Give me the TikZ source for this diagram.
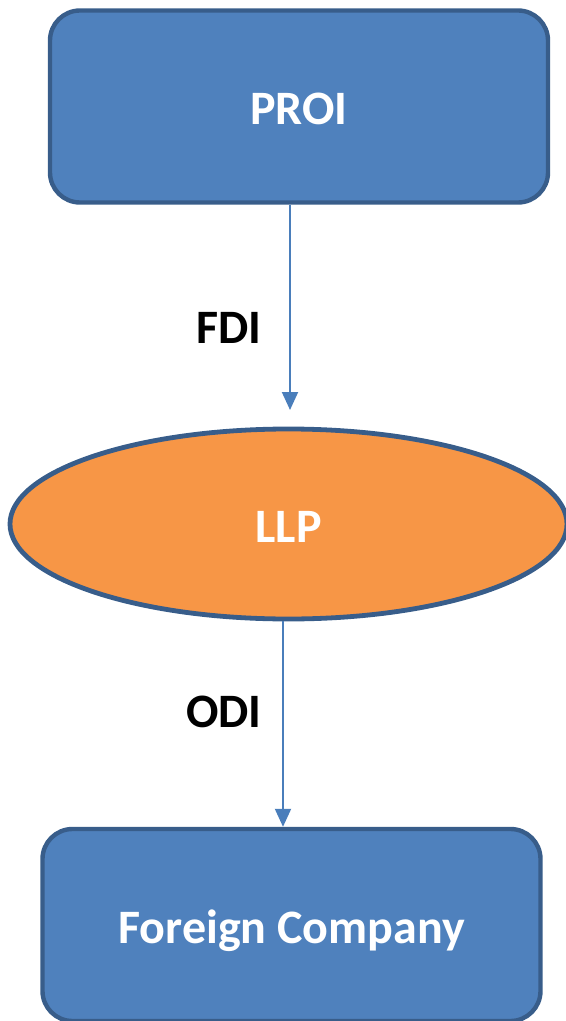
\documentclass[tikz,border=0pt]{standalone}
\usepackage{fontspec}
\setmainfont{Carlito}
\usetikzlibrary{arrows.meta,shapes.geometric}
\definecolor{boxfill}{HTML}{4F81BD}
\definecolor{boxline}{HTML}{385D8A}
\definecolor{ovalfill}{HTML}{F79646}
\definecolor{flowline}{HTML}{4A7EBB}
\begin{document}
\begin{tikzpicture}[x=0.5pt,y=-0.5pt,
  caption/.style={font=\bfseries\fontsize{24}{28}\selectfont, text height=18.5pt, text depth=0pt},
  entity/.style={caption, draw=boxline, line width=2.2pt, fill=boxfill, rounded corners=15pt,
    minimum width=249pt, minimum height=96pt, inner sep=0pt, text=white},
  oval/.style={caption, ellipse, draw=boxline, line width=2.4pt, fill=ovalfill,
    minimum width=278.5pt, minimum height=95pt, inner sep=0pt, text=white},
  flow/.style={draw=flowline, line width=1pt, -{Triangle[length=9pt,width=8pt]}},
  flowlabel/.style={caption, anchor=east, inner sep=0pt}]
  \path[use as bounding box] (0,0) rectangle (566,1021);
  \clip (0,0) rectangle (566,1021);

  % entities
  \node[entity] (proi) at (299,106.5) {PROI};
  \node[oval] (llp) at (288.5,524) {LLP};
  \node[entity] (fc) at (291.5,925) {Foreign Company};

  % investment flows
  \coordinate (fdiend) at (290,410);
  \coordinate (odix) at (283,700);
  \draw[flow] (proi.south -| fdiend) -- (fdiend);
  \draw[flow] (llp.south -| odix) -- (fc.north -| odix);

  \node[flowlabel] (fdi) at (262,325) {FDI};
  \node[flowlabel] (odi) at (262,709) {ODI};
\end{tikzpicture}
\end{document}
